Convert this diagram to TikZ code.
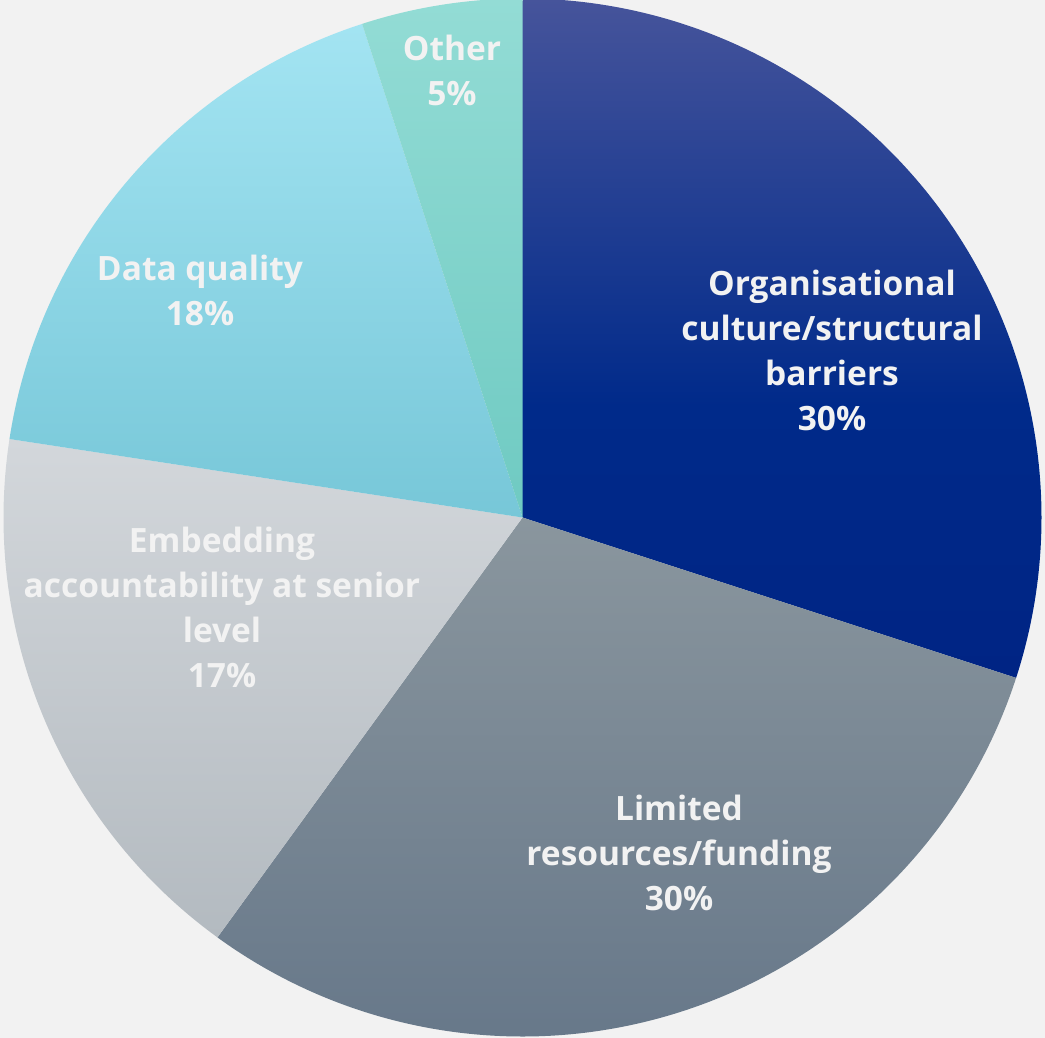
\documentclass[tikz,border=0pt]{standalone}
\usepackage{fontspec}
\setmainfont{Open Sans}
\definecolor{bg}{HTML}{F2F2F2}
\definecolor{txt}{HTML}{F2F2F2}
\definecolor{orgtop}{HTML}{46549B}
\definecolor{orgmid}{HTML}{002A8A}
\definecolor{orgbot}{HTML}{002484}
\pgfdeclareverticalshading{orgshade}{100bp}{color(0bp)=(orgbot); color(25bp)=(orgbot); color(45bp)=(orgmid); color(75bp)=(orgtop); color(100bp)=(orgtop)}
\begin{document}
\begin{tikzpicture}[x=1pt,y=-1pt,
  lbl/.style={text=txt,align=center,font=\bfseries\fontsize{33.5}{45}\selectfont,inner sep=0pt}]
\fill[bg] (0,0) rectangle (1045,1038);
\useasboundingbox (0,0) rectangle (1045,1038);
\coordinate (c) at (522.5,517.5);
\def\R{519}
% Organisational
\shade[shading=orgshade]
  (c) -- ++(-90:\R) arc[start angle=-90,end angle=18,radius=\R] -- cycle;
% Limited
\shade[top color={rgb,255:red,138;green,150;blue,158},bottom color={rgb,255:red,102;green,119;blue,137}]
  (c) -- ++(18:\R) arc[start angle=18,end angle=126,radius=\R] -- cycle;
% Embedding
\shade[top color={rgb,255:red,211;green,215;blue,219},bottom color={rgb,255:red,179;green,186;blue,192}]
  (c) -- ++(126:\R) arc[start angle=126,end angle=188.7,radius=\R] -- cycle;
% Data quality
\shade[top color={rgb,255:red,163;green,228;blue,242},bottom color={rgb,255:red,119;green,199;blue,216}]
  (c) -- ++(188.7:\R) arc[start angle=188.7,end angle=252,radius=\R] -- cycle;
% Other
\shade[top color={rgb,255:red,147;green,220;blue,213},bottom color={rgb,255:red,111;green,202;blue,194}]
  (c) -- ++(252:\R) arc[start angle=252,end angle=270,radius=\R] -- cycle;

\node[lbl] (org) at (832,350) {Organisational\\culture/structural\\barriers\\30\%};
\node[lbl] (lim) at (679,852.5) {Limited\\resources/funding\\30\%};
\node[lbl] (emb) at (222,607.5) {Embedding\\accountability at senior\\level\\17\%};
\node[lbl] (dat) at (200,290.5) {Data quality\\18\%};
\node[lbl] (oth) at (452,70) {Other\\5\%};
\end{tikzpicture}
\end{document}
